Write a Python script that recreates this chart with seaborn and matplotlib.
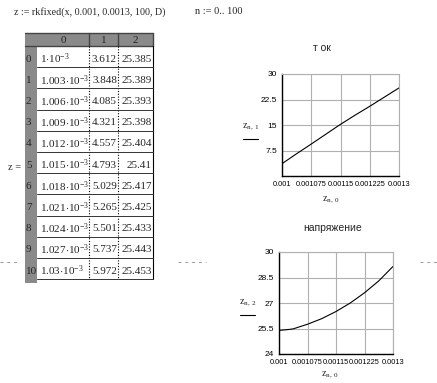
import matplotlib
matplotlib.use("Agg")
import matplotlib.pyplot as plt
import seaborn as sns
from matplotlib.patches import Rectangle

# table values shown in the worksheet (first 11 rows of z)
rows = list(range(11))
col0 = [0.001, 0.001003, 0.001006, 0.001009, 0.001012, 0.001015,
        0.001018, 0.001021, 0.001024, 0.001027, 0.00103]
col1 = [3.612, 3.848, 4.085, 4.321, 4.557, 4.793, 5.029, 5.265, 5.501, 5.737, 5.972]
col2 = [25.385, 25.389, 25.393, 25.398, 25.404, 25.41, 25.417, 25.425, 25.433, 25.443, 25.453]

# curves
t_curve = [0.001, 0.00103, 0.0010375, 0.001075, 0.0011125, 0.00115,
           0.0011875, 0.001225, 0.0012625, 0.0013]
i_curve = [3.612, 5.972, 6.55, 9.4, 12.3, 15.2, 17.9, 20.5, 23.2, 25.9]
u_curve = [25.385, 25.453, 25.48, 25.75, 26.08, 26.5, 27.0, 27.6, 28.3, 29.15]

x_ticks = [0.001, 0.001075, 0.00115, 0.001225, 0.0013]
x_ticklabels = ["0.001", "0.001075", "0.00115", "0.001225", "0.0013"]

sns.set_style("white")
plt.rcParams["mathtext.fontset"] = "custom"
plt.rcParams["mathtext.rm"] = "Liberation Serif"
plt.rcParams["mathtext.it"] = "Liberation Serif"
serif = "Liberation Serif"
sans = "Liberation Sans"

fig = plt.figure(figsize=(4.37, 3.83), dpi=100)

# worksheet layer in pixel coordinates
bg = fig.add_axes([0, 0, 1, 1])
bg.set_xlim(0, 437)
bg.set_ylim(383, 0)
bg.axis("off")

bg.text(14, 12, "z := rkfixed(x, 0.001, 0.0013, 100, D)", family=serif, fontsize=7.2, va="center")
bg.text(195, 12, "n := 0.. 100", family=serif, fontsize=7.5, va="center")
bg.text(8, 167, "z =", family=serif, fontsize=7.5, va="center")

# table
gray = "#8a8a8a"
x_left, x_idx, x_c0, x_c1, x_c2 = 25, 37, 89, 118, 153
y_head, y_top, rh = 33, 46, 21.2
y_bot = y_top + rh * len(rows)
bg.add_patch(Rectangle((x_left, y_head), x_c2 - x_left, y_top - y_head, color=gray, lw=0))
bg.add_patch(Rectangle((x_left, y_top), x_idx - x_left, y_bot - y_top + 4, color=gray, lw=0))
for xa, xb, lab in [(x_idx, x_c0, "0"), (x_c0, x_c1, "1"), (x_c1, x_c2, "2")]:
    bg.plot([xb, xb], [y_head, y_top], color="#444444", lw=1)
    bg.text((xa + xb) / 2, (y_head + y_top) / 2 + 1, lab, family=serif, fontsize=8, ha="center", va="center")
bg.plot([x_left, x_c2], [y_head, y_head], color="#444444", lw=1)
bg.plot([x_left, x_c2], [y_top, y_top], color="#444444", lw=1)
bg.plot([x_c2, x_c2], [y_top, y_bot], color="black", lw=0.8)
for xv in [x_c0, x_c1]:
    bg.plot([xv, xv], [y_top, y_bot], color="black", lw=0.8, ls=(0, (1, 1.5)))
for r, a, b, c in zip(rows, col0, col1, col2):
    y0 = y_top + rh * r
    if r > 0:
        bg.plot([x_idx, x_c2], [y0, y0], color="#333333", lw=0.7)
    yc = y0 + rh * 0.62
    bg.text(x_left + 1, yc, str(r), family=serif, fontsize=8, va="center")
    bg.text(x_idx + 3, yc, r"$\mathrm{%g{\cdot}10^{-3}}$" % round(a * 1e3, 3),
            fontsize=8, va="center")
    bg.text(x_c1 - 1, yc, f"{b:g}", family=serif, fontsize=8, va="center", ha="right")
    bg.text(x_c2 - 1, yc, f"{c:g}", family=serif, fontsize=8, va="center", ha="right")
bg.plot([x_idx, x_c2], [y_bot, y_bot], color="#333333", lw=0.7)

# page break marks
for xa, xb in [(0, 20), (178, 206), (420, 437)]:
    bg.plot([xa, xb], [262, 262], color="#999999", lw=0.7, ls=(0, (3, 4)))


def graph(rect, y, ylim, yticks, title, title_xy, ylab_xy, xlab_xy, ylab):
    ax = fig.add_axes(rect)
    sns.lineplot(x=t_curve, y=y, ax=ax, color="black", lw=0.8)
    ax.set_xlim(0.001, 0.0013)
    ax.set_ylim(*ylim)
    ax.set_xticks(x_ticks)
    ax.set_xticklabels(x_ticklabels, family=sans, fontsize=5.3)
    ax.set_yticks(yticks)
    ax.set_yticklabels([f"{v:g}" if v != ylim[0] or ylim[0] != 0 else "" for v in yticks],
                       family=sans, fontsize=6)
    ax.grid(True, color="#b0b0b0", lw=0.8)
    for s in ["top", "right"]:
        ax.spines[s].set_color("#b0b0b0")
        ax.spines[s].set_linewidth(0.8)
    for s in ["left", "bottom"]:
        ax.spines[s].set_color("black")
        ax.spines[s].set_linewidth(1)
    ax.tick_params(direction="inout", length=5, width=1, colors="black", pad=1)
    ax.set_xlabel("")
    ax.set_ylabel("")
    bg.text(*title_xy, title, family=sans, fontsize=7.5, ha="center", va="center")
    bg.text(*ylab_xy, ylab, fontsize=7.5, ha="center", va="center")
    bg.plot([ylab_xy[0] - 8, ylab_xy[0] + 7], [ylab_xy[1] + 12, ylab_xy[1] + 12], color="black", lw=0.8)
    bg.text(*xlab_xy, r"$\mathrm{z_{n,\,0}}$", fontsize=7.5, ha="center", va="center")
    return ax


graph([282 / 437, (383 - 176) / 383, 117 / 437, 102 / 383], i_curve, (0, 30),
      [0, 7.5, 15, 22.5, 30], "т ок", (322, 48), (251, 127), (331, 200),
      r"$\mathrm{z_{n,\,1}}$")
graph([279 / 437, (383 - 354) / 383, 114 / 437, 102 / 383], u_curve, (24, 30),
      [24, 25.5, 27, 28.5, 30], "напряжение", (333, 228), (248, 303), (330, 375),
      r"$\mathrm{z_{n,\,2}}$")

fig.savefig("out.png", dpi=100)
